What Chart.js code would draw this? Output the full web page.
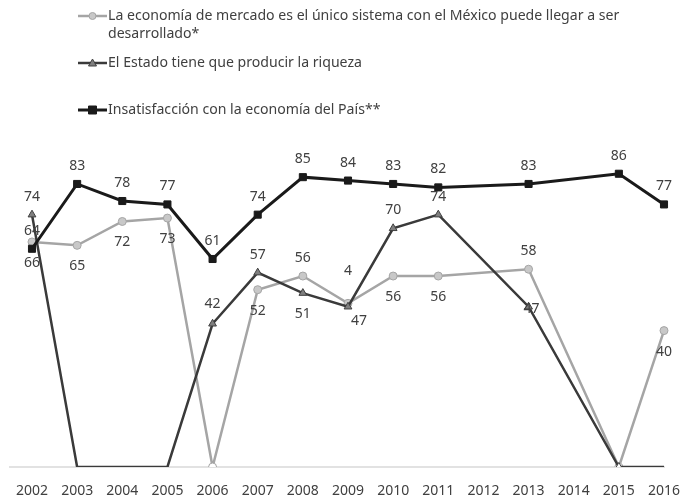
<!DOCTYPE html>
<html>
<head>
<meta charset="utf-8">
<script src="https://cdn.jsdelivr.net/npm/chart.js@4/dist/chart.umd.min.js"></script>
<style>
  html, body { margin: 0; padding: 0; background: #fff; }
  #wrap { width: 681px; height: 499px; }
</style>
</head>
<body>
<div id="wrap"><canvas id="chart" width="681" height="499"></canvas></div>
<script>
const years = ['2002', '2003', '2004', '2005', '2006', '2007', '2008', '2009', '2010', '2011', '2012', '2013', '2014', '2015', '2016'];

const mercado = [66, 65, 72, 73, 0, 52, 56, 48, 56, 56, null, 58, null, 0, 40];
const estado = [74, 0, 0, 0, 42, 57, 51, 47, 70, 74, null, 47, null, 0, 0];
const insatisfaccion = [64, 83, 78, 77, 61, 74, 85, 84, 83, 82, null, 83, null, 86, 77];

// texts shown next to the points ('' = none)
const mercadoLabels = ['66', '65', '72', '73', '', '52', '56', '4', '56', '56', '', '58', '', '', '40'];
const estadoLabels = ['74', '', '', '', '42', '57', '51', '47', '70', '74', '', '47', '', '', ''];
const insatisfaccionLabels = ['64', '83', '78', '77', '61', '74', '85', '84', '83', '82', '', '83', '', '86', '77'];

const legendTexts = [
  ['La economía de mercado es el único sistema con el México puede llegar a ser', 'desarrollado*'],
  ['El Estado tiene que producir la riqueza'],
  ['Insatisfacción con la economía del País**'],
];

const FONT = '"Noto Sans", "Open Sans", sans-serif';
const TEXT = '#404040';

// offsets of the value labels from their point
const up = [0, -18];
const down = [0, 21];

const valueLabels = {
  id: 'valueLabels',
  afterDatasetsDraw(chart) {
    const ctx = chart.ctx;
    ctx.save();
    ctx.font = '14px ' + FONT;
    ctx.fillStyle = TEXT;
    ctx.textAlign = 'center';
    ctx.textBaseline = 'middle';
    chart.data.datasets.forEach((ds, i) => {
      const meta = chart.getDatasetMeta(i);
      meta.data.forEach((pt, j) => {
        const txt = ds.valueText[j];
        if (!txt) return;
        const off = ds.labelOffset[j];
        ctx.fillText(txt, pt.x + off[0], pt.y + off[1]);
      });
    });
    ctx.restore();
  }
};

const baseline = {
  id: 'baseline',
  beforeDatasetsDraw(chart) {
    const { ctx, chartArea } = chart;
    ctx.save();
    ctx.strokeStyle = '#D9D9D9';
    ctx.lineWidth = 1.5;
    ctx.beginPath();
    ctx.moveTo(9, chartArea.bottom);
    ctx.lineTo(chartArea.right + 1, chartArea.bottom);
    ctx.stroke();
    ctx.restore();
  }
};

const legendBox = {
  id: 'legendBox',
  afterDraw(chart) {
    const ctx = chart.ctx;
    const rows = [16, 63, 110];
    ctx.save();
    ctx.font = '14.1px ' + FONT;
    ctx.textBaseline = 'middle';
    chart.data.datasets.forEach((ds, i) => {
      const y = rows[i];
      ctx.strokeStyle = ds.borderColor;
      ctx.lineWidth = ds.borderWidth;
      ctx.beginPath();
      ctx.moveTo(78, y);
      ctx.lineTo(107, y);
      ctx.stroke();
      ctx.fillStyle = ds.legendFill;
      ctx.strokeStyle = ds.pointBorderColor;
      ctx.lineWidth = 1;
      ctx.beginPath();
      if (ds.pointStyle === 'circle') {
        ctx.arc(92.5, y, 3.5, 0, Math.PI * 2);
      } else if (ds.pointStyle === 'triangle') {
        ctx.moveTo(92.5, y - 4);
        ctx.lineTo(96.5, y + 3);
        ctx.lineTo(88.5, y + 3);
        ctx.closePath();
      } else {
        ctx.rect(88.5, y - 4, 8, 8);
      }
      ctx.fill();
      ctx.stroke();
      ctx.fillStyle = TEXT;
      legendTexts[i].forEach((line, k) => {
        ctx.fillText(line, 108, y + k * 18);
      });
    });
    ctx.restore();
  }
};

const mercadoOffsets = [down, down, down, down, down, down, up, [0, -32], down, down, down, up, down, down, down];
const estadoOffsets = [up, up, up, up, [0, -20], up, down, [11, 14], up, up, up, [3, 2], up, up, up];
const insatisfaccionOffsets = years.map(() => up);

new Chart(document.getElementById('chart'), {
  type: 'line',
  data: {
    labels: years,
    datasets: [
      {
        label: legendTexts[0].join(' '),
        data: mercado,
        valueText: mercadoLabels,
        labelOffset: mercadoOffsets,
        legendFill: '#C8C8C8',
        borderColor: '#A5A5A5',
        borderWidth: 2.5,
        pointStyle: 'circle',
        pointRadius: 4,
        pointBackgroundColor: (c) => (c.raw === 0 ? '#FFFFFF' : '#C8C8C8'),
        pointBorderColor: '#A5A5A5',
        pointBorderWidth: 1,
        tension: 0,
        spanGaps: true,
        order: 3,
      },
      {
        label: legendTexts[1][0],
        data: estado,
        valueText: estadoLabels,
        labelOffset: estadoOffsets,
        legendFill: '#7F7F7F',
        borderColor: '#3A3A3A',
        borderWidth: 2.5,
        pointStyle: 'triangle',
        pointRadius: (c) => (c.raw === 0 && c.dataIndex !== 13 ? 0 : 4.5),
        pointBackgroundColor: (c) => (c.raw === 0 ? '#FFFFFF' : '#7F7F7F'),
        pointBorderColor: '#404040',
        pointBorderWidth: 1,
        tension: 0,
        spanGaps: true,
        order: 2,
      },
      {
        label: legendTexts[2][0],
        data: insatisfaccion,
        valueText: insatisfaccionLabels,
        labelOffset: insatisfaccionOffsets,
        legendFill: '#1A1A1A',
        borderColor: '#1A1A1A',
        borderWidth: 3,
        pointStyle: 'rect',
        pointRadius: 5,
        pointBackgroundColor: '#1A1A1A',
        pointBorderColor: '#1A1A1A',
        pointBorderWidth: 1,
        tension: 0,
        spanGaps: true,
        order: 1,
      },
    ],
  },
  options: {
    responsive: false,
    animation: false,
    events: [],
    layout: { padding: { top: 126, left: 32, right: 17, bottom: 0 } },
    plugins: {
      legend: { display: false },
      tooltip: { enabled: false },
    },
    scales: {
      x: {
        offset: false,
        grid: { display: false, drawTicks: false },
        border: { display: false },
        ticks: {
          color: TEXT,
          font: { family: FONT, size: 14 },
          padding: 16,
          maxRotation: 0,
          autoSkip: false,
        },
        afterFit: (s) => {
          s.height = 32;
          s.paddingLeft = 0;
          s.paddingRight = 0;
        },
      },
      y: {
        display: false,
        min: 0,
        max: 100,
      },
    },
  },
  plugins: [baseline, valueLabels, legendBox],
});
</script>
</body>
</html>
